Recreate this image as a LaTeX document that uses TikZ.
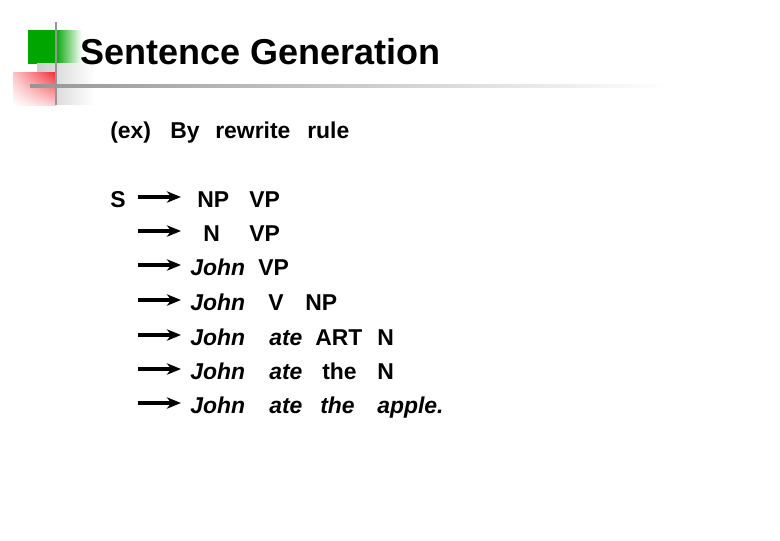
\documentclass[tikz,border=0pt]{standalone}
\usepackage{fontspec}
\setmainfont{Liberation Sans}
\usetikzlibrary{arrows.meta,shadings}
\definecolor{slidegreen}{RGB}{0,165,0}
\definecolor{slidered}{RGB}{240,20,30}
\definecolor{slidegray}{RGB}{150,150,150}
\begin{document}
\begin{tikzpicture}[x=0.025cm,y=-0.025cm,
        every node/.style={inner sep=0pt,anchor=base west,font=\fontsize{16.3}{18}\bfseries},
        it/.style={font=\fontsize{16.3}{18}\bfseries\itshape},
        title/.style={font=\fontsize{25.6}{30}\bfseries},
        rw/.style={line width=2.5pt,-{Stealth[length=10pt,width=8pt,inset=3pt]}}]
        \useasboundingbox (0,0) rectangle (780,540);

        % corner decoration
        \fill[slidegreen] (28,30) rectangle (55,64);
        \shade[left color=slidegreen,right color=white] (55,30) rectangle (82,64);
        \shade[left color=gray!40,right color=white] (37,63) rectangle (95,104);
        \shade[upper left=slidered!25,upper right=slidered!90,lower left=white,lower right=slidered!20] (13,72) rectangle (56,105);
        \shade[left color=slidegray,right color=white] (30,84) rectangle (670,87.5);
        \draw[slidegray,line width=2pt] (56,22) -- (56,105);

        \node[title] (title) at (80,64) {Sentence Generation};

        \node (ex) at (110,138) {(ex)};
        \node (by) at (170,138) {By};
        \node (rewrite) at (215,138) {rewrite};
        \node (rule) at (307,138) {rule};

        % derivation
        \node (s) at (110,207) {S};
        \node (np1) at (197,207) {NP};
        \node (vp1) at (249,207) {VP};

        \node (n2) at (203,241) {N};
        \node (vp2) at (249,241) {VP};

        \node[it] (john3) at (190,275) {John};
        \node (vp3) at (258,275) {VP};

        \node[it] (john4) at (190,310) {John};
        \node (v4) at (268,310) {V};
        \node (np4) at (305,310) {NP};

        \node[it] (john5) at (190,345) {John};
        \node[it] (ate5) at (269,345) {ate};
        \node (art5) at (315,345) {ART};
        \node (n5) at (377,345) {N};

        \node[it] (john6) at (190,379) {John};
        \node[it] (ate6) at (269,379) {ate};
        \node (the6) at (322,379) {the};
        \node (n6) at (377,379) {N};

        \node[it] (john7) at (190,413) {John};
        \node[it] (ate7) at (269,413) {ate};
        \node[it] (the7) at (320,413) {the};
        \node[it] (apple7) at (377,413) {apple.};

        % rewrite arrows
        \coordinate (a1) at (138,197); \coordinate (b1) at (181,197);
        \coordinate (a2) at (138,231); \coordinate (b2) at (181,231);
        \coordinate (a3) at (138,265); \coordinate (b3) at (181,265);
        \coordinate (a4) at (138,300); \coordinate (b4) at (181,300);
        \coordinate (a5) at (138,335); \coordinate (b5) at (181,335);
        \coordinate (a6) at (138,369); \coordinate (b6) at (181,369);
        \coordinate (a7) at (138,403); \coordinate (b7) at (181,403);

        \draw[rw] (a1) -- (b1);
        \draw[rw] (a2) -- (b2);
        \draw[rw] (a3) -- (b3);
        \draw[rw] (a4) -- (b4);
        \draw[rw] (a5) -- (b5);
        \draw[rw] (a6) -- (b6);
        \draw[rw] (a7) -- (b7);
    \end{tikzpicture}
\end{document}
